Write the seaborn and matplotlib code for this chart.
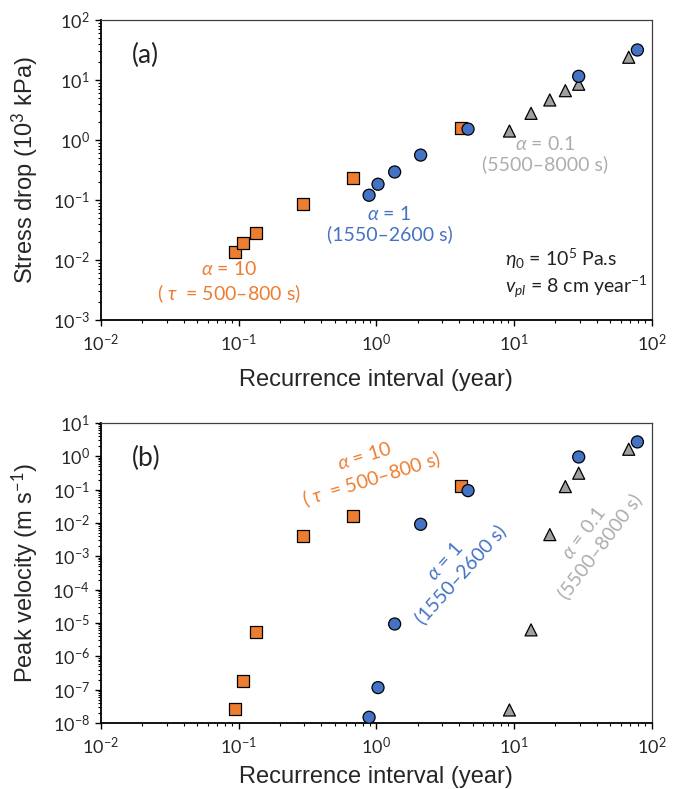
import numpy as np
import pandas as pd
import matplotlib
import matplotlib.pyplot as plt
import matplotlib.ticker as mticker
import seaborn as sns

# Data
# alpha = 0.1 (gray triangles)
t_gray = [9.27, 13.3, 18.2, 23.6, 29.5, 68.1]
s_gray = [1.41, 2.78, 4.64, 6.63, 8.48, 23.9]
v_gray = [2.45e-8, 6.2e-6, 4.46e-3, 0.123, 0.31, 1.62]
# alpha = 10 (orange squares)
t_orange = [0.095, 0.107, 0.133, 0.296, 0.683, 4.1]
s_orange = [0.0137, 0.0194, 0.0285, 0.0858, 0.235, 1.6]
v_orange = [2.6e-8, 1.78e-7, 5.5e-6, 4.07e-3, 0.0166, 0.129]
# alpha = 1 (blue circles)
t_blue = [0.887, 1.03, 1.36, 2.1, 4.64, 29.5, 78.7]
s_blue = [0.12, 0.183, 0.293, 0.56, 1.52, 11.5, 31.6]
v_blue = [1.48e-8, 1.15e-7, 9.3e-6, 9.1e-3, 0.093, 0.95, 2.69]

series_names = ['a0.1', 'a10', 'a1']
colors = {'a0.1': '#A0A0A0', 'a10': '#ED7D31', 'a1': '#4472C4'}
text_colors = {'a0.1': '#ADADAD', 'a10': '#ED7D31', 'a1': '#4472C4'}
markers = {'a0.1': '^', 'a10': 's', 'a1': 'o'}

df = pd.concat([
    pd.DataFrame({'interval': t_gray, 'stress': s_gray, 'velocity': v_gray, 'series': 'a0.1'}),
    pd.DataFrame({'interval': t_orange, 'stress': s_orange, 'velocity': v_orange, 'series': 'a10'}),
    pd.DataFrame({'interval': t_blue, 'stress': s_blue, 'velocity': v_blue, 'series': 'a1'}),
], ignore_index=True)

sns.set_style('white')
plt.rcParams['font.family'] = ['Lato', 'DejaVu Sans']
plt.rcParams['mathtext.fontset'] = 'custom'
plt.rcParams['mathtext.rm'] = 'Lato'
plt.rcParams['mathtext.it'] = 'Lato:italic'
plt.rcParams['mathtext.bf'] = 'Lato:bold'
plt.rcParams['mathtext.sf'] = 'Lato'
plt.rcParams['mathtext.fallback'] = 'stixsans'

fig = plt.figure(figsize=(6.81, 7.89), dpi=100)
ax1 = fig.add_axes([0.148, 0.5944, 0.809, 0.3803])
ax2 = fig.add_axes([0.148, 0.0837, 0.809, 0.3803])

label_font = dict(family=['Liberation Sans', 'DejaVu Sans'], size=17)


def style_axis(ax, ylim, ylabel):
    '''
    Log-log axes with outward ticks and Excel-like frame.
    '''
    ax.set_xscale('log')
    ax.set_yscale('log')
    ax.set_xlim(1e-2, 1e2)
    ax.set_ylim(*ylim)
    for a in (ax.xaxis, ax.yaxis):
        a.set_major_locator(mticker.LogLocator(base=10, numticks=100))
        a.set_minor_locator(mticker.LogLocator(base=10, subs=np.arange(2, 10), numticks=100))
        a.set_minor_formatter(mticker.NullFormatter())
    ax.tick_params(which='major', direction='out', length=4, width=1, labelsize=13,
                   bottom=True, left=True, top=False, right=False, color='black')
    ax.tick_params(which='minor', direction='out', length=2.5, width=0.8,
                   bottom=True, left=True, top=False, right=False, color='black')
    ax.tick_params(axis='x', which='major', pad=5)
    ax.tick_params(axis='y', which='major', pad=4)
    for side in ['left', 'bottom']:
        ax.spines[side].set_color('black')
        ax.spines[side].set_linewidth(1.3)
    for side in ['top', 'right']:
        ax.spines[side].set_color('#404040')
        ax.spines[side].set_linewidth(0.9)
    ax.set_xlabel('Recurrence interval (year)', fontdict=label_font)
    ax.set_ylabel(ylabel, fontdict=label_font)
    ax.xaxis.label.set_va('center')
    ax.yaxis.label.set_va('center')
    ax.yaxis.set_label_coords(-0.138, 0.5)


for ax, ycol in [(ax1, 'stress'), (ax2, 'velocity')]:
    sns.scatterplot(data=df, x='interval', y=ycol, hue='series', style='series',
                    hue_order=series_names, style_order=series_names,
                    palette=colors, markers=markers, s=75, edgecolor='black',
                    linewidth=0.9, legend=False, ax=ax, zorder=3)

style_axis(ax1, (1e-3, 1e2), 'Stress drop (10$^3$ kPa)')
style_axis(ax2, (1e-8, 1e1), 'Peak velocity (m s$^{-1}$)')
ax1.xaxis.set_label_coords(0.5, -0.2)
ax2.xaxis.set_label_coords(0.5, -0.18)

# Panel letters
ax1.text(0.081, 0.88, '(a)', transform=ax1.transAxes, fontsize=19, ha='center', va='center', color='#222222')
ax2.text(0.083, 0.883, '(b)', transform=ax2.transAxes, fontsize=19, ha='center', va='center', color='#222222')

fs = 14
# Annotations, panel (a)
ax1.text(0.232, 0.125, '$\\alpha$ = 10\n( $\\tau$  = 500\u2013800 s)', transform=ax1.transAxes,
         fontsize=fs, color=text_colors['a10'], ha='center', va='center', multialignment='center')
ax1.text(0.524, 0.32, '$\\alpha$ = 1\n(1550\u20132600 s)', transform=ax1.transAxes,
         fontsize=fs, color=text_colors['a1'], ha='center', va='center', multialignment='center')
ax1.text(0.806, 0.553, '$\\alpha$ = 0.1\n(5500\u20138000 s)', transform=ax1.transAxes,
         fontsize=fs, color=text_colors['a0.1'], ha='center', va='center', multialignment='center')
ax1.text(0.733, 0.203, '$\\eta_0$ = 10$^5$ Pa.s', transform=ax1.transAxes,
         fontsize=fs, color='#222222', ha='left', va='center')
ax1.text(0.733, 0.11, '$v_{pl}$ = 8 cm year$^{-1}$', transform=ax1.transAxes,
         fontsize=fs, color='#222222', ha='left', va='center')

# Annotations, panel (b)
ax2.text(0.486, 0.847, '$\\alpha$ = 10\n( $\\tau$  = 500\u2013800 s)', transform=ax2.transAxes,
         fontsize=fs, color=text_colors['a10'], ha='center', va='center', multialignment='center',
         rotation=17, rotation_mode='anchor')
ax2.text(0.639, 0.517, '$\\alpha$ = 1\n(1550\u20132600 s)', transform=ax2.transAxes,
         fontsize=fs, color=text_colors['a1'], ha='center', va='center', multialignment='center',
         rotation=48, rotation_mode='anchor')
ax2.text(0.891, 0.61, '$\\alpha$ = 0.1\n(5500\u20138000 s)', transform=ax2.transAxes,
         fontsize=fs, color=text_colors['a0.1'], ha='center', va='center', multialignment='center',
         rotation=53, rotation_mode='anchor')

fig.savefig('out.png', dpi=100, facecolor='white')
